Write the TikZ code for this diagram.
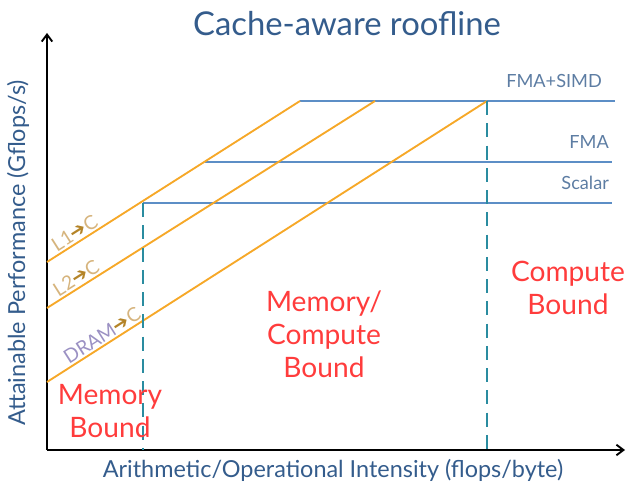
\documentclass[tikz,border=0pt]{standalone}
\usepackage{fontspec}
\setmainfont{Lato}
\newfontfamily\symfont{DejaVu Sans}
\usepackage{tikz}
\usetikzlibrary{arrows.meta, positioning}
\definecolor{titleblue}{RGB}{52,92,140}
\definecolor{roofblue}{RGB}{92,142,198}
\definecolor{bandwidth}{RGB}{246,168,40}
\definecolor{ridge}{RGB}{42,140,160}
\definecolor{regionred}{RGB}{255,60,60}
\definecolor{tan}{RGB}{214,180,125}
\definecolor{gold}{RGB}{180,132,40}
\definecolor{lavender}{RGB}{155,145,195}
\tikzstyle{axis} = [line width=1.6pt, -{Straight Barb[length=6pt,width=9pt,line width=1.6pt]}]
\tikzstyle{roof} = [roofblue, line width=1.6pt]
\tikzstyle{slope} = [bandwidth, line width=1.6pt]
\tikzstyle{ridgeline} = [ridge, line width=2.2pt, dash pattern=on 12pt off 7pt]
\tikzstyle{region} = [regionred, align=center, font=\fontsize{24}{28}\selectfont]
\tikzstyle{rooflabel} = [titleblue!80, font=\fontsize{15.5}{18}\selectfont]
\tikzstyle{bwlabel} = [font=\fontsize{16.5}{19}\selectfont, inner sep=1.5pt]
\newcommand{\tocore}{{\color{gold}\symfont ➔}}

\begin{document}
\begin{tikzpicture}[x=0.03cm, y=-0.03cm]
        \useasboundingbox (0,0) rectangle (627,487);

        % axes
        \coordinate (origin) at (47,450);
        \coordinate (ytop) at (47,33);
        \coordinate (xend) at (625,450);
        \draw [axis] (origin) -- (ytop);
        \draw [axis] (origin) -- (xend);

        % texts round the plot
        \node (title) [titleblue, font=\fontsize{28}{32}\selectfont] at (347,24) {Cache-aware roofline};
        \node (xlabel) [titleblue, font=\fontsize{20}{24}\selectfont] at (333,470) {Arithmetic/Operational Intensity (flops/byte)};
        \node (ylabel) [titleblue, rotate=90, font=\fontsize{20}{24}\selectfont] at (18,253) {Attainable Performance (Gflops/s)};

        % compute roofs
        \coordinate (simdS) at (300,101);
        \coordinate (simdE) at (615,101);
        \coordinate (fmaS) at (205,162);
        \coordinate (fmaE) at (612,162);
        \coordinate (scalS) at (143,203);
        \coordinate (scalE) at (612,203);
        \draw [roof] (simdS) -- (simdE);
        \draw [roof] (fmaS) -- (fmaE);
        \draw [roof] (scalS) -- (scalE);
        \node (simdlab) [rooflabel, anchor=south east] at (606,92) {FMA+SIMD};
        \node (fmalab) [rooflabel, anchor=south east] at (613,153) {FMA};
        \node (scallab) [rooflabel, anchor=south east] at (613,194) {Scalar};

        % bandwidth slopes
        \coordinate (l1S) at (47,262);
        \coordinate (l2S) at (47,308);
        \coordinate (l2E) at (375,101);
        \coordinate (dramS) at (47,382);
        \coordinate (dramE) at (487,101);
        \draw [slope] (l1S) -- node[bwlabel, pos=0.13, sloped, above] {\color{tan}L1\tocore C} (simdS);
        \draw [slope] (l2S) -- node[bwlabel, pos=0.105, sloped, above] {\color{tan}L2\tocore C} (l2E);
        \draw [slope] (dramS) -- node[bwlabel, pos=0.137, sloped, above] {\color{lavender}DRAM\tocore{\color{tan}C}} (dramE);

        % ridge points
        \coordinate (ridgeA) at (143,450);
        \coordinate (ridgeB) at (487,450);
        \draw [ridgeline] (scalS) -- (ridgeA);
        \draw [ridgeline] (dramE) -- (ridgeB);

        % regions
        \node (membound) [region] at (110,411) {Memory\\Bound};
        \node (mixbound) [region] at (324,334) {Memory/\\Compute\\Bound};
        \node (compbound) [region] at (568,288) {Compute\\Bound};
    \end{tikzpicture}
\end{document}
